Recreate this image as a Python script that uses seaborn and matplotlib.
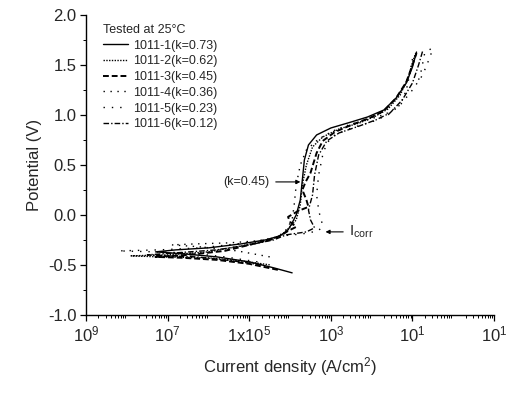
import numpy as np
import pandas as pd
import matplotlib
matplotlib.use("Agg")
import matplotlib.pyplot as plt
import seaborn as sns

# log10 of current density (A/cm2) and potential (V) for each sample
c1_logi = [-3.95, -4.4, -5.0, -5.8, -6.6, -7.3, -6.8, -6.0, -5.2, -4.6, -4.25, -4.05, -3.95, -3.85,
           -3.75, -3.7, -3.65, -3.55, -3.35, -3.0, -2.5, -2.1, -1.7, -1.4, -1.15, -1.0, -0.9]
c1_E = [-0.58, -0.53, -0.47, -0.42, -0.39, -0.37, -0.35, -0.33, -0.29, -0.25, -0.21, -0.15, -0.08, 0.0,
        0.15, 0.35, 0.55, 0.70, 0.80, 0.87, 0.93, 0.98, 1.05, 1.17, 1.32, 1.48, 1.63]

c2_logi = [-4.5, -5.2, -6.0, -7.2, -7.9, -7.0, -6.0, -5.2, -4.5, -4.2, -4.0, -3.85, -3.75, -3.7,
           -3.6, -3.45, -3.2, -2.8, -2.3, -1.9, -1.6, -1.3, -1.1, -0.98, -0.92]
c2_E = [-0.50, -0.46, -0.43, -0.42, -0.41, -0.40, -0.37, -0.31, -0.25, -0.20, -0.12, -0.05, 0.10, 0.30,
        0.50, 0.68, 0.78, 0.86, 0.92, 0.99, 1.06, 1.20, 1.38, 1.55, 1.62]

c3_logi = [-4.3, -5.0, -5.8, -6.6, -7.3, -6.5, -5.6, -4.9, -4.4, -4.2, -4.05, -3.85, -4.0, -4.05,
           -3.8, -3.55, -3.6, -3.7, -3.62, -3.5, -3.35, -3.2, -2.9, -2.5, -2.05, -1.7, -1.4,
           -1.15, -1.0, -0.9]
c3_E = [-0.55, -0.49, -0.45, -0.43, -0.42, -0.40, -0.36, -0.29, -0.24, -0.20, -0.16, -0.12, -0.07, -0.02,
        0.04, 0.08, 0.15, 0.25, 0.33, 0.42, 0.62, 0.74, 0.83, 0.90, 0.97, 1.04, 1.17,
        1.33, 1.50, 1.62]

c4_logi = [-4.5, -5.3, -6.2, -6.9, -6.3, -5.5, -4.8, -4.3, -4.1, -3.95, -3.9, -3.85, -3.75, -3.6,
           -3.3, -2.95, -2.5, -2.1, -1.65, -1.3, -1.15, -1.07, -1.0]
c4_E = [-0.42, -0.36, -0.32, -0.30, -0.29, -0.28, -0.26, -0.22, -0.15, -0.05, 0.10, 0.30, 0.50, 0.65,
        0.76, 0.84, 0.91, 0.95, 1.01, 1.10, 1.25, 1.40, 1.56]

c5_logi = [-4.8, -5.6, -6.5, -7.3, -8.2, -7.2, -6.2, -5.3, -4.6, -4.2, -3.7, -3.3, -3.2, -3.25,
           -3.3, -3.35, -3.3, -3.2, -3.1, -2.9, -2.5, -2.0, -1.6, -1.3, -1.0, -0.75, -0.55,
           -0.52, -0.7, -0.78, -0.85]
c5_E = [-0.47, -0.42, -0.38, -0.37, -0.36, -0.35, -0.33, -0.29, -0.25, -0.21, -0.19, -0.16, -0.10, -0.04,
        0.05, 0.20, 0.40, 0.60, 0.72, 0.80, 0.87, 0.93, 1.00, 1.10, 1.25, 1.40, 1.60,
        1.67, 1.62, 1.45, 1.35]

c6_logi = [-4.7, -5.4, -6.3, -7.0, -7.5, -6.8, -5.8, -5.0, -4.4, -4.1, -3.6, -3.4, -3.5, -3.55,
           -3.45, -3.4, -3.3, -3.1, -2.8, -2.3, -1.9, -1.55, -1.25, -1.0, -0.85, -0.75]
c6_E = [-0.50, -0.46, -0.42, -0.41, -0.40, -0.38, -0.35, -0.30, -0.25, -0.20, -0.17, -0.13, -0.05, 0.05,
        0.20, 0.40, 0.60, 0.74, 0.82, 0.89, 0.95, 1.02, 1.15, 1.32, 1.50, 1.64]

labels = ["1011-1(k=0.73)", "1011-2(k=0.62)", "1011-3(k=0.45)",
          "1011-4(k=0.36)", "1011-5(k=0.23)", "1011-6(k=0.12)"]
curves = [(c1_logi, c1_E), (c2_logi, c2_E), (c3_logi, c3_E),
          (c4_logi, c4_E), (c5_logi, c5_E), (c6_logi, c6_E)]
styles = ["-", (0, (1, 1)), (0, (3, 1.5)), (0, (1, 4, 1, 4)), (0, (1, 5)), (0, (4, 1.5, 1, 1.5))]
widths = [1.0, 1.0, 1.4, 1.0, 1.0, 1.0]

xtick_vals = [1e-9, 1e-7, 1e-5, 1e-3, 1e-1, 1e1]
xtick_labels = ["10$^{9}$", "10$^{7}$", "1x10$^{5}$", "10$^{3}$", "10$^{1}$", "10$^{1}$"]

sns.set_theme(style="ticks")
plt.rcParams['font.family'] = ['Liberation Sans', 'DejaVu Sans']
plt.rcParams['mathtext.default'] = 'regular'

fig = plt.figure(figsize=(5.13, 3.96), dpi=100)
ax = fig.add_axes([0.168, 0.205, 0.795, 0.757])

for (li, e), lab, ls, lw in zip(curves, labels, styles, widths):
    d = pd.DataFrame({"i": 10 ** np.array(li), "E": e})
    sns.lineplot(data=d, x="i", y="E", sort=False, estimator=None, ax=ax,
                 color="black", linestyle=ls, linewidth=lw, label=lab)

ax.set_xscale("log")
ax.set_xlim(1e-9, 1e1)
ax.set_ylim(-1.0, 2.0)
ax.set_xticks(xtick_vals)
ax.set_xticklabels(xtick_labels, fontsize=12)
ax.set_yticks([-1.0, -0.5, 0.0, 0.5, 1.0, 1.5, 2.0])
ax.set_yticklabels(["-1.0", "-0.5", "0.0", "0.5", "1.0", "1.5", "2.0"], fontsize=12)
ax.yaxis.set_minor_locator(matplotlib.ticker.MultipleLocator(0.25))
ax.xaxis.set_minor_locator(matplotlib.ticker.LogLocator(base=10, subs=np.arange(2, 10), numticks=20))
ax.xaxis.set_minor_formatter(matplotlib.ticker.NullFormatter())
ax.tick_params(which="major", direction="out", length=4, width=0.9, color="black", pad=3)
ax.tick_params(which="minor", direction="out", length=2, width=0.7, color="black")
for s in ["left", "bottom"]:
    ax.spines[s].set_color("black")
    ax.spines[s].set_linewidth(1.0)
sns.despine(ax=ax)

ax.set_xlabel("Current density (A/cm$^2$)", fontsize=12, labelpad=8)
ax.set_ylabel("Potential (V)", fontsize=12, labelpad=4)

leg = ax.legend(title="Tested at 25°C", loc="upper left", bbox_to_anchor=(0.02, 1.0),
                frameon=False, fontsize=9, title_fontsize=9, handlelength=2.0,
                handletextpad=0.4, labelspacing=0.3, borderpad=0.2)
leg._legend_box.align = "left"

ax.annotate("(k=0.45)", xy=(10 ** -3.68, 0.33), xytext=(10 ** -4.5, 0.33),
            fontsize=9, ha="right", va="center",
            arrowprops=dict(arrowstyle="-|>", color="black", lw=0.8, mutation_scale=6))
ax.annotate("I$_{corr}$", xy=(10 ** -3.2, -0.17), xytext=(10 ** -2.55, -0.17),
            fontsize=11, ha="left", va="center",
            arrowprops=dict(arrowstyle="-|>", color="black", lw=0.8, mutation_scale=6))

fig.savefig("out.png", dpi=100)
